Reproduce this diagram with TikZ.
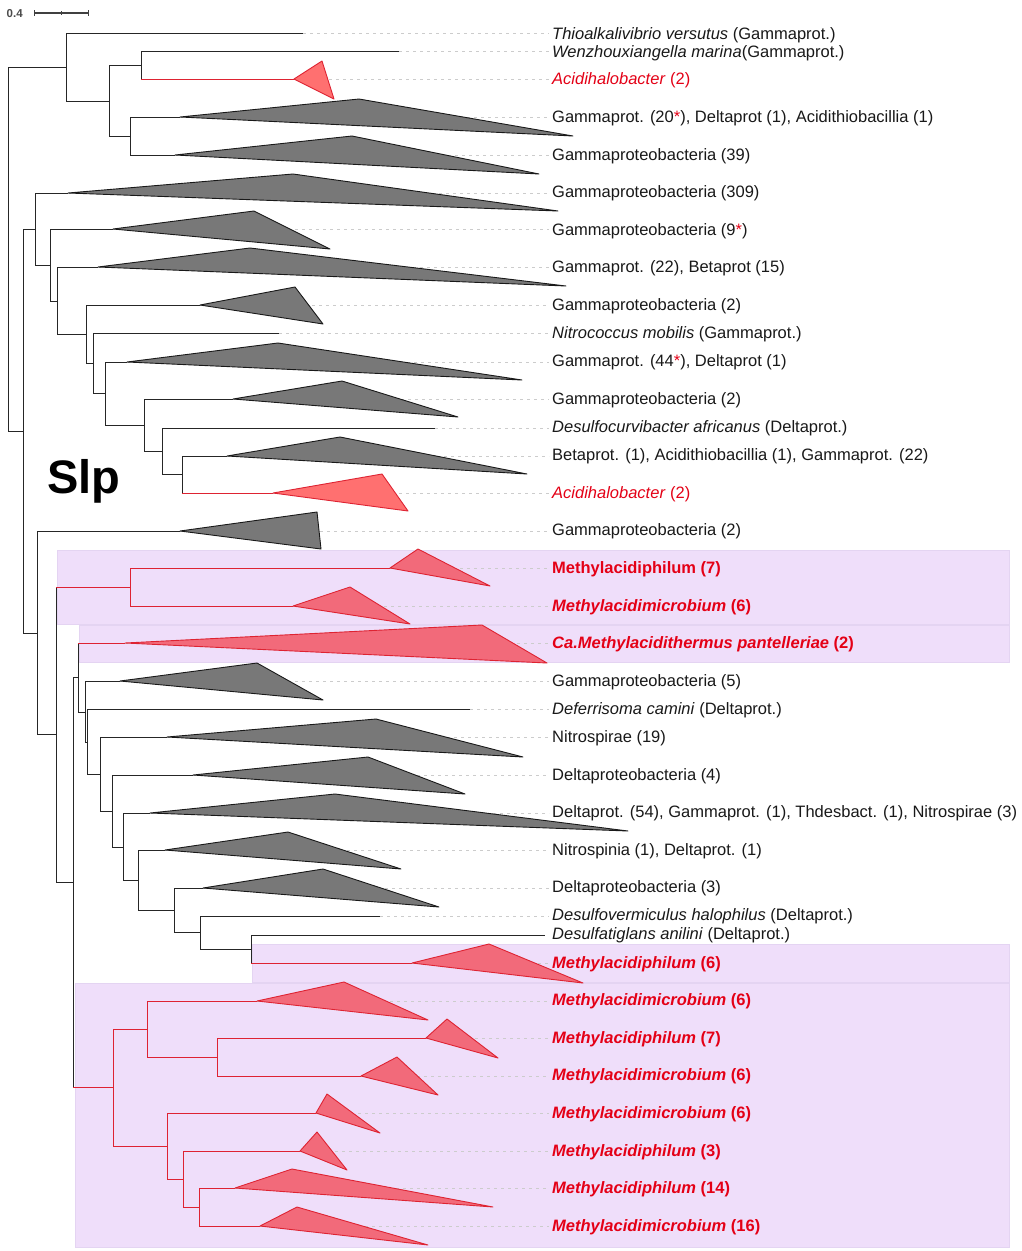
\documentclass[tikz,border=0pt]{standalone}
\usepackage{fontspec}
\setmainfont{Liberation Sans}
\definecolor{redbr}{RGB}{222,35,50}
\definecolor{labred}{RGB}{228,0,22}
\definecolor{trigrey}{RGB}{120,120,120}
\definecolor{trired}{RGB}{255,112,112}
\definecolor{trimeth}{RGB}{242,106,122}
\definecolor{boxpurple}{RGB}{239,222,250}
\definecolor{boxline}{RGB}{228,212,242}
\newcommand\labfont{\fontsize{16.5}{20}\selectfont}
\newcommand\tbr[3]{\draw[#1] (#2) |- (#3);}
\newcommand\tbrm[2]{\draw[bk] (#1) -- (#1 |- #2); \draw[rb] (#1 |- #2) -- (#2);}
\tikzset{
  bk/.style={draw=black!85, line width=1pt},
  rb/.style={draw=redbr, line width=1pt},
  gtri/.style={fill=trigrey, draw=black!90, line width=0.9pt, line join=round},
  atri/.style={fill=trired, draw=redbr, line width=0.9pt, line join=round},
  mtri/.style={fill=trimeth, draw=redbr, line width=0.9pt, line join=round},
  guide/.style={draw=black!20, line width=0.8pt, dash pattern=on 3pt off 4pt},
  lab/.style={anchor=base west, inner sep=0pt, font=\labfont, text=black!90},
  rlab/.style={lab, text=labred},
  pbox/.style={fill=boxpurple, draw=boxline, line width=0.5pt},
}
\begin{document}
\begin{tikzpicture}[x=1pt,y=-1pt]
\useasboundingbox[fill=white] (0,0) rectangle (1021,1251);
% purple boxes
\draw[pbox] (57,550) rectangle (1009,624);
\draw[pbox] (79,625) rectangle (1009,662);
\draw[pbox] (252,944) rectangle (1009,982);
\draw[pbox] (75,983) rectangle (1009,1247);
% leaves
\coordinate (L1) at (303,33);
\coordinate (L2) at (399,51);
\coordinate (L3) at (294,79);
\coordinate (L4) at (180,117);
\coordinate (L5) at (175,155);
\coordinate (L6) at (68,193);
\coordinate (L7) at (113,229);
\coordinate (L8) at (98,267);
\coordinate (L9) at (200,305);
\coordinate (L10) at (279,333);
\coordinate (L11) at (127,362);
\coordinate (L12) at (233,399);
\coordinate (L13) at (435,428);
\coordinate (L14) at (227,456);
\coordinate (L15) at (273,493);
\coordinate (L16) at (180,531);
\coordinate (L17) at (390,568);
\coordinate (L18) at (293,606);
\coordinate (L19) at (125,643);
\coordinate (L20) at (120,681);
\coordinate (L21) at (470,709);
\coordinate (L22) at (167,737);
\coordinate (L23) at (193,775);
\coordinate (L24) at (150,813);
\coordinate (L25) at (165,850);
\coordinate (L26) at (203,888);
\coordinate (L27) at (380,916);
\coordinate (L28) at (545,935);
\coordinate (L29) at (412,963);
\coordinate (L30) at (257,1001);
\coordinate (L31) at (426,1038);
\coordinate (L32) at (361,1076);
\coordinate (L33) at (316,1113);
\coordinate (L34) at (300,1151);
\coordinate (L35) at (235,1188);
\coordinate (L36) at (260,1226);
% internal nodes
\coordinate (root) at (8,249);
\coordinate (nA) at (66,67);
\coordinate (nB) at (109,101);
\coordinate (nC) at (141,65);
\coordinate (nD) at (130,136);
\coordinate (nE) at (23,431);
\coordinate (nF) at (35,229);
\coordinate (nG) at (50,265);
\coordinate (nH) at (57,301);
\coordinate (nI) at (86,334);
\coordinate (nJ) at (93,363);
\coordinate (nK) at (105,393);
\coordinate (nL) at (144,425);
\coordinate (nM) at (162,451);
\coordinate (nN) at (182,474);
\coordinate (nQ) at (37,633);
\coordinate (nR) at (56,734);
\coordinate (nS) at (130,587);
\coordinate (nT) at (73,882);
\coordinate (nU) at (78,677);
\coordinate (nV) at (85.5,712);
\coordinate (nW) at (87,742);
\coordinate (nX) at (100,774);
\coordinate (nY) at (112,811);
\coordinate (nZ) at (123,847);
\coordinate (nZb) at (138,880);
\coordinate (nZc) at (174,910);
\coordinate (nZd) at (200,932);
\coordinate (nZe) at (251,949);
\coordinate (nAA) at (113,1087);
\coordinate (nAB) at (147,1029);
\coordinate (nAC) at (217,1057);
\coordinate (nAD) at (167,1146);
\coordinate (nAE) at (183,1179);
\coordinate (nAF) at (199,1207);
% guide lines
\foreach \l in {L1,L2,L3,L4,L5,L6,L7,L8,L9,L10,L11,L12,L13,L14,L15,L16,L17,L18,L19,L20,L21,L22,L23,L24,L25,L26,L27,L29,L30,L31,L32,L33,L34,L35,L36}
  \draw[guide] (\l) -- (549,0 |- \l);
% branches
\tbr{bk}{root}{nA} \tbr{bk}{root}{nE}
\tbr{bk}{nA}{L1} \tbr{bk}{nA}{nB}
\tbr{bk}{nB}{nC} \tbr{bk}{nB}{nD}
\tbr{bk}{nC}{L2} \tbrm{nC}{L3}
\tbr{bk}{nD}{L4} \tbr{bk}{nD}{L5}
\tbr{bk}{nE}{nF} \tbr{bk}{nE}{nQ}
\tbr{bk}{nF}{L6} \tbr{bk}{nF}{nG}
\tbr{bk}{nG}{L7} \tbr{bk}{nG}{nH}
\tbr{bk}{nH}{L8} \tbr{bk}{nH}{nI}
\tbr{bk}{nI}{L9} \tbr{bk}{nI}{nJ}
\tbr{bk}{nJ}{L10} \tbr{bk}{nJ}{nK}
\tbr{bk}{nK}{L11} \tbr{bk}{nK}{nL}
\tbr{bk}{nL}{L12} \tbr{bk}{nL}{nM}
\tbr{bk}{nM}{L13} \tbr{bk}{nM}{nN}
\tbr{bk}{nN}{L14} \tbrm{nN}{L15}
\tbr{bk}{nQ}{L16} \tbr{bk}{nQ}{nR}
\tbrm{nR}{nS} \tbr{bk}{nR}{nT}
\tbr{rb}{nS}{L17} \tbr{rb}{nS}{L18}
\tbr{bk}{nT}{nU} \tbrm{nT}{nAA}
\tbrm{nU}{L19} \tbr{bk}{nU}{nV}
\tbr{bk}{nV}{L20} \tbr{bk}{nV}{nW}
\tbr{bk}{nW}{L21} \tbr{bk}{nW}{nX}
\tbr{bk}{nX}{L22} \tbr{bk}{nX}{nY}
\tbr{bk}{nY}{L23} \tbr{bk}{nY}{nZ}
\tbr{bk}{nZ}{L24} \tbr{bk}{nZ}{nZb}
\tbr{bk}{nZb}{L25} \tbr{bk}{nZb}{nZc}
\tbr{bk}{nZc}{L26} \tbr{bk}{nZc}{nZd}
\tbr{bk}{nZd}{L27} \tbr{bk}{nZd}{nZe}
\tbr{bk}{nZe}{L28} \tbrm{nZe}{L29}
\tbr{rb}{nAA}{nAB} \tbr{rb}{nAA}{nAD}
\tbr{rb}{nAB}{L30} \tbr{rb}{nAB}{nAC}
\tbr{rb}{nAC}{L31} \tbr{rb}{nAC}{L32}
\tbr{rb}{nAD}{L33} \tbr{rb}{nAD}{nAE}
\tbr{rb}{nAE}{L34} \tbr{rb}{nAE}{nAF}
\tbr{rb}{nAF}{L35} \tbr{rb}{nAF}{L36}
% collapsed clades
\draw[atri] (L3) -- (322,61) -- (334,99) -- cycle;
\draw[gtri] (L4) -- (359,99) -- (573,136) -- cycle;
\draw[gtri] (L5) -- (352,136) -- (539,174) -- cycle;
\draw[gtri] (L6) -- (293,174) -- (558,211) -- cycle;
\draw[gtri] (L7) -- (254,211) -- (330,249) -- cycle;
\draw[gtri] (L8) -- (250,248) -- (566,286) -- cycle;
\draw[gtri] (L9) -- (295,287) -- (323,324) -- cycle;
\draw[gtri] (L11) -- (278,343) -- (522,380) -- cycle;
\draw[gtri] (L12) -- (342,381) -- (458,417) -- cycle;
\draw[gtri] (L14) -- (340,437) -- (527,474) -- cycle;
\draw[atri] (L15) -- (382,474) -- (408,511) -- cycle;
\draw[gtri] (L16) -- (317,512) -- (321,549) -- cycle;
\draw[mtri] (L17) -- (418,549) -- (490,586) -- cycle;
\draw[mtri] (L18) -- (350,587) -- (410,624) -- cycle;
\draw[mtri] (L19) -- (482,625) -- (547,663) -- cycle;
\draw[gtri] (L20) -- (257,663) -- (323,700) -- cycle;
\draw[gtri] (L22) -- (376,719) -- (523,757) -- cycle;
\draw[gtri] (L23) -- (368,757) -- (465,794) -- cycle;
\draw[gtri] (L24) -- (335,794) -- (628,831) -- cycle;
\draw[gtri] (L25) -- (288,832) -- (401,869) -- cycle;
\draw[gtri] (L26) -- (323,869) -- (439,907) -- cycle;
\draw[mtri] (L29) -- (489,944) -- (583,983) -- cycle;
\draw[mtri] (L30) -- (344,982) -- (428,1020) -- cycle;
\draw[mtri] (L31) -- (447,1019) -- (498,1058) -- cycle;
\draw[mtri] (L32) -- (397,1057) -- (438,1095) -- cycle;
\draw[mtri] (L33) -- (327,1094) -- (380,1133) -- cycle;
\draw[mtri] (L34) -- (317,1132) -- (347,1170) -- cycle;
\draw[mtri] (L35) -- (292,1169) -- (493,1207) -- cycle;
\draw[mtri] (L36) -- (297,1207) -- (428,1245) -- cycle;
% labels
\node[lab] (t1) at (552,39) {\textit{Thioalkalivibrio versutus} (Gammaprot.)};
\node[lab] (t2) at (552,57) {\textit{Wenzhouxiangella marina}(Gammaprot.)};
\node[rlab] (t3) at (552,84) {\textit{Acidihalobacter} (2)};
\node[lab] (t4) at (552,122) {Gammaprot. (20\textcolor{labred}{*}), Deltaprot (1), Acidithiobacillia (1)};
\node[lab] (t5) at (552,160) {Gammaproteobacteria (39)};
\node[lab] (t6) at (552,197) {Gammaproteobacteria (309)};
\node[lab] (t7) at (552,235) {Gammaproteobacteria (9\textcolor{labred}{*})};
\node[lab] (t8) at (552,272) {Gammaprot. (22), Betaprot (15)};
\node[lab] (t9) at (552,310) {Gammaproteobacteria (2)};
\node[lab] (t10) at (552,338) {\textit{Nitrococcus mobilis} (Gammaprot.)};
\node[lab] (t11) at (552,366) {Gammaprot. (44\textcolor{labred}{*}), Deltaprot (1)};
\node[lab] (t12) at (552,404) {Gammaproteobacteria (2)};
\node[lab] (t13) at (552,432) {\textit{Desulfocurvibacter africanus} (Deltaprot.)};
\node[lab] (t14) at (552,460) {Betaprot. (1), Acidithiobacillia (1), Gammaprot. (22)};
\node[rlab] (t15) at (552,498) {\textit{Acidihalobacter} (2)};
\node[lab] (t16) at (552,535) {Gammaproteobacteria (2)};
\node[rlab,font=\labfont\bfseries] (t17) at (552,573) {Methylacidiphilum (7)};
\node[rlab,font=\labfont\bfseries] (t18) at (552,611) {\textit{Methylacidimicrobium} (6)};
\node[rlab,font=\labfont\bfseries] (t19) at (552,648) {\textit{Ca.Methylacidithermus pantelleriae} (2)};
\node[lab] (t20) at (552,686) {Gammaproteobacteria (5)};
\node[lab] (t21) at (552,714) {\textit{Deferrisoma camini} (Deltaprot.)};
\node[lab] (t22) at (552,742) {Nitrospirae (19)};
\node[lab] (t23) at (552,780) {Deltaproteobacteria (4)};
\node[lab] (t24) at (552,817) {Deltaprot. (54), Gammaprot. (1), Thdesbact. (1), Nitrospirae (3)};
\node[lab] (t25) at (552,855) {Nitrospinia (1), Deltaprot. (1)};
\node[lab] (t26) at (552,892) {Deltaproteobacteria (3)};
\node[lab] (t27) at (552,920) {\textit{Desulfovermiculus halophilus} (Deltaprot.)};
\node[lab] (t28) at (552,939) {\textit{Desulfatiglans anilini} (Deltaprot.)};
\node[rlab,font=\labfont\bfseries] (t29) at (552,968) {\textit{Methylacidiphilum} (6)};
\node[rlab,font=\labfont\bfseries] (t30) at (552,1005) {\textit{Methylacidimicrobium} (6)};
\node[rlab,font=\labfont\bfseries] (t31) at (552,1043) {\textit{Methylacidiphilum} (7)};
\node[rlab,font=\labfont\bfseries] (t32) at (552,1080) {\textit{Methylacidimicrobium} (6)};
\node[rlab,font=\labfont\bfseries] (t33) at (552,1118) {\textit{Methylacidimicrobium} (6)};
\node[rlab,font=\labfont\bfseries] (t34) at (552,1156) {\textit{Methylacidiphilum} (3)};
\node[rlab,font=\labfont\bfseries] (t35) at (552,1193) {\textit{Methylacidiphilum} (14)};
\node[rlab,font=\labfont\bfseries] (t36) at (552,1231) {\textit{Methylacidimicrobium} (16)};
% Slp
\node[anchor=base west, inner sep=0pt, font=\fontsize{47}{47}\selectfont\bfseries] (slp) at (47,493) {Slp};
% scale bar
\node[anchor=base west, inner sep=0pt, text=black!70, font=\fontsize{11.5}{12}\selectfont\bfseries] (sclab) at (6.5,17.5) {0.4};
\coordinate (sb1) at (34,13);
\coordinate (sb2) at (88,13);
\coordinate (sbm) at (61,13);
\draw[line width=1.3pt, black!75] (sb1) -- (sb2);
\draw[line width=1pt, black!75] ([yshift=3pt]sb1) -- ([yshift=-3pt]sb1);
\draw[line width=1pt, black!75] ([yshift=3pt]sb2) -- ([yshift=-3pt]sb2);
\draw[line width=1pt, black!75] ([yshift=2pt]sbm) -- ([yshift=-2pt]sbm);
\end{tikzpicture}
\end{document}
